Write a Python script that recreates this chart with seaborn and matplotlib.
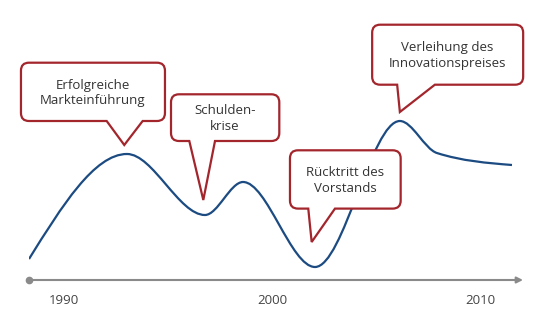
import matplotlib
matplotlib.use("Agg")
import matplotlib.pyplot as plt
import matplotlib.transforms as mtransforms
from matplotlib.path import Path
from matplotlib.patches import PathPatch
import numpy as np
import seaborn as sns

# Company trajectory: turning points (years, index value)
years = [1988.32, 1993.03, 1996.78, 1998.61, 2002.07, 2006.15, 2007.93, 2011.54]
values = [21, 126, 65, 98, 13, 159, 127, 115]

tick_years = [1990, 2000, 2010]

# Events marked on the timeline
event_labels = ["Erfolgreiche\nMarkteinführung", "Schulden-\nkrise",
                "Rücktritt des\nVorstands", "Verleihung des\nInnovationspreises"]
event_years = [1992.90, 1996.70, 2001.91, 2006.15]
event_levels = [135, 80, 38, 168]

sns.set_theme(style="white")
plt.rcParams["font.family"] = ["Open Sans", "DejaVu Sans"]

LINE_BLUE = "#1c4b82"
CALLOUT_RED = "#a3262d"
AXIS_GREY = "#8a8a8a"
TEXT = "#333333"

W, H = 549, 324
fig = plt.figure(figsize=(W / 100, H / 100), dpi=100)
ax = fig.add_axes([29 / W, (H - 280) / H, (523 - 29) / W, 280 / H])


def monotone_path(xs, ys):
    """Monotone cubic curve (Fritsch-Carlson style) through the points."""
    x = np.asarray(xs, float)
    y = np.asarray(ys, float)
    n = len(x)
    h = np.diff(x)
    s = np.diff(y) / h
    t = np.zeros(n)
    for i in range(1, n - 1):
        s0, s1 = s[i - 1], s[i]
        p = (s0 * h[i] + s1 * h[i - 1]) / (h[i - 1] + h[i])
        t[i] = (np.sign(s0) + np.sign(s1)) * min(abs(s0), abs(s1), 0.5 * abs(p))
    t[0] = (3 * s[0] - t[1]) / 2
    t[-1] = (3 * s[-1] - t[-2]) / 2
    verts = [(x[0], y[0])]
    codes = [Path.MOVETO]
    for i in range(n - 1):
        dx = h[i] / 3
        verts += [(x[i] + dx, y[i] + dx * t[i]),
                  (x[i + 1] - dx, y[i + 1] - dx * t[i + 1]),
                  (x[i + 1], y[i + 1])]
        codes += [Path.CURVE4] * 3
    return Path(verts, codes)


ax.add_patch(PathPatch(monotone_path(years, values), facecolor="none",
                       edgecolor=LINE_BLUE, lw=1.6, transform=ax.transData,
                       zorder=2, capstyle="butt"))

ax.set_xlim(1988.32, 2012.07)
ax.set_ylim(0, 280)
sns.despine(ax=ax, left=True, bottom=True)
ax.set_yticks([])
ax.set_xticks(tick_years)
ax.set_xticklabels([str(t) for t in tick_years])
ax.tick_params(axis="x", length=0, pad=10, labelsize=9.5, labelcolor="#444444")

# Timeline axis: dot at the start, arrow at the end
ax.annotate("", xy=(1, 0), xytext=(0, 0), xycoords="axes fraction",
            textcoords="axes fraction",
            arrowprops=dict(arrowstyle="-|>", color=AXIS_GREY, lw=1.5,
                            mutation_scale=9, shrinkA=0, shrinkB=0),
            annotation_clip=False)
ax.plot([0], [0], "o", color=AXIS_GREY, markersize=4.5,
        transform=ax.transAxes, clip_on=False)

# Callout boxes: (left, top, right, bottom, base_left, base_right) in pixels
# relative to the pointer tip, y pointing down
box_geom = [
    (-103.3, -82.3, 40.7, -24.0, -17.6, 18.4),
    (-32.3, -105.7, 76.0, -59.0, -14.0, 11.7),
    (-21.7, -91.7, 89.0, -33.4, -3.4, 23.3),
    (-27.7, -87.3, 123.3, -27.3, -2.7, 35.0),
]


def callout_path(L, T, R, B, b0, b1, r=8.0):
    verts = [
        (L + r, T), (R - r, T),
        (R, T), (R, T + r),
        (R, B - r),
        (R, B), (R - r, B),
        (b1, B), (0, 0), (b0, B),
        (L + r, B),
        (L, B), (L, B - r),
        (L, T + r),
        (L, T), (L + r, T),
        (L + r, T),
    ]
    codes = [
        Path.MOVETO, Path.LINETO,
        Path.CURVE3, Path.CURVE3,
        Path.LINETO,
        Path.CURVE3, Path.CURVE3,
        Path.LINETO, Path.LINETO, Path.LINETO,
        Path.LINETO,
        Path.CURVE3, Path.CURVE3,
        Path.LINETO,
        Path.CURVE3, Path.CURVE3,
        Path.CLOSEPOLY,
    ]
    return Path(verts, codes)


for label, yr, lvl, geom in zip(event_labels, event_years, event_levels, box_geom):
    L, T, R, B, b0, b1 = geom
    trans = mtransforms.Affine2D().scale(1, -1) + \
        mtransforms.ScaledTranslation(yr, lvl, ax.transData)
    patch = PathPatch(callout_path(L, T, R, B, b0, b1), facecolor="white",
                      edgecolor=CALLOUT_RED, lw=1.6, transform=trans,
                      clip_on=False, zorder=3, joinstyle="miter")
    ax.add_patch(patch)
    ax.text((L + R) / 2, (T + B) / 2 + 1, label, transform=trans,
            ha="center", va="center", fontsize=9.5, color=TEXT,
            linespacing=1.25, zorder=4, clip_on=False)

fig.savefig("out.png", dpi=100)
